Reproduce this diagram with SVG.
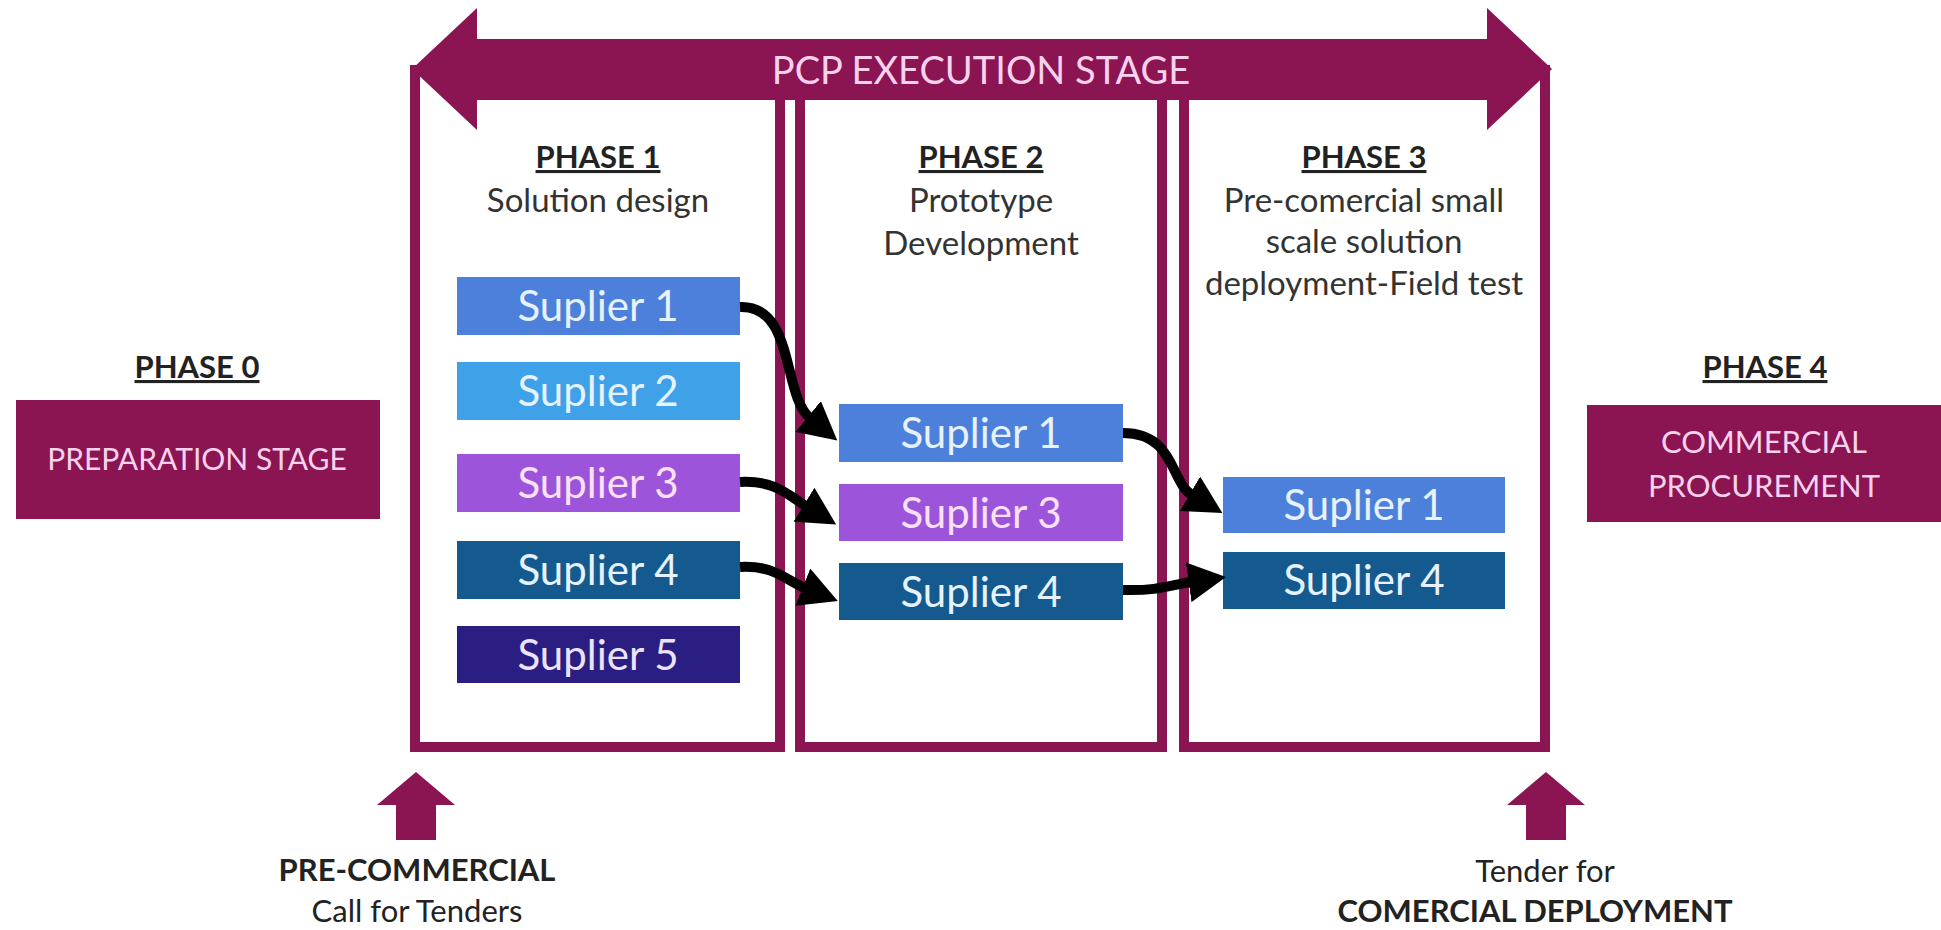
<svg xmlns="http://www.w3.org/2000/svg" width="1941" height="930" viewBox="0 0 1941 930">
<defs>
<style>
.mar{fill:#8B1452}
.frame{fill:none;stroke:#8B1452;stroke-width:10}
.hd{font-family:Lato,"Liberation Sans",sans-serif;font-weight:bold;font-size:31px;fill:#222;text-anchor:middle;text-decoration:underline}
.sub{font-family:Lato,"Liberation Sans",sans-serif;font-size:33px;fill:#333;text-anchor:middle}
.lt{font-family:Lato,"Liberation Sans",sans-serif;font-size:30px;fill:#f8d2ec;text-anchor:middle}
.sp{font-family:Lato,"Liberation Sans",sans-serif;font-size:42px;text-anchor:middle;fill:#e6f2ff}
.bt{font-family:Lato,"Liberation Sans",sans-serif;font-size:31px;fill:#222;text-anchor:middle}
.s1{fill:#4D80DA}.s2{fill:#3FA1E8}.s3{fill:#9C55DA}.s4{fill:#145A8E}.s5{fill:#2B1E83}
.con{fill:none;stroke:#000;stroke-width:10;marker-end:url(#ah)}
</style>
<marker id="ah" markerUnits="userSpaceOnUse" markerWidth="40" markerHeight="40" refX="2" refY="17" orient="auto" viewBox="0 0 34 34">
<path d="M0,0 L32,17 L0,34 Z" fill="#000"/>
</marker>
</defs>
<rect width="1941" height="930" fill="#fff"/>

<g id="phase-frames">
<rect class="frame" x="415" y="70" width="365" height="677"/>
<rect class="frame" x="800" y="70" width="362" height="677"/>
<rect class="frame" x="1184" y="70" width="361" height="677"/>
</g>

<g id="pcp-execution-stage">
<polygon class="mar" points="412,69 477,8 477,39 1487,39 1487,8 1552,69 1487,130 1487,100 477,100 477,130"/>
<text x="981" y="84" class="lt" style="font-size:38px">PCP EXECUTION STAGE</text>
</g>

<g id="phase0">
<text x="197" y="378" class="hd">PHASE 0</text>
<rect class="mar" x="16" y="400" width="364" height="119"/>
<text x="197" y="470" class="lt">PREPARATION STAGE</text>
</g>

<g id="phase4">
<text x="1765" y="378" class="hd">PHASE 4</text>
<rect class="mar" x="1587" y="405" width="354" height="117"/>
<text x="1764" y="453" class="lt" style="font-size:31px">COMMERCIAL</text>
<text x="1764" y="497" class="lt" style="font-size:31px">PROCUREMENT</text>
</g>

<g id="phase1">
<text x="598" y="168" class="hd">PHASE 1</text>
<text x="598" y="212" class="sub">Solution design</text>
</g>
<g id="phase2">
<text x="981" y="168" class="hd">PHASE 2</text>
<text x="981" y="212" class="sub">Prototype</text>
<text x="981" y="255" class="sub">Development</text>
</g>
<g id="phase3">
<text x="1364" y="168" class="hd">PHASE 3</text>
<text x="1364" y="212" class="sub">Pre-comercial small</text>
<text x="1364" y="253" class="sub">scale solution</text>
<text x="1364" y="295" class="sub">deployment-Field test</text>
</g>

<g id="p1-s1"><rect class="s1" x="457" y="277" width="283" height="58"/><text x="598" y="321" class="sp">Suplier 1</text></g>
<g id="p1-s2"><rect class="s2" x="457" y="362" width="283" height="58"/><text x="598" y="406" class="sp">Suplier 2</text></g>
<g id="p1-s3"><rect class="s3" x="457" y="454" width="283" height="58"/><text x="598" y="498" class="sp" style="fill:#fbe0f8">Suplier 3</text></g>
<g id="p1-s4"><rect class="s4" x="457" y="541" width="283" height="58"/><text x="598" y="585" class="sp">Suplier 4</text></g>
<g id="p1-s5"><rect class="s5" x="457" y="626" width="283" height="57"/><text x="598" y="670" class="sp" style="fill:#ece4ff">Suplier 5</text></g>

<g id="p2-s1"><rect class="s1" x="839" y="404" width="284" height="58"/><text x="981" y="448" class="sp">Suplier 1</text></g>
<g id="p2-s3"><rect class="s3" x="839" y="484" width="284" height="57"/><text x="981" y="528" class="sp" style="fill:#fbe0f8">Suplier 3</text></g>
<g id="p2-s4"><rect class="s4" x="839" y="563" width="284" height="57"/><text x="981" y="607" class="sp">Suplier 4</text></g>

<g id="p3-s1"><rect class="s1" x="1223" y="477" width="282" height="56"/><text x="1364" y="520" class="sp">Suplier 1</text></g>
<g id="p3-s4"><rect class="s4" x="1223" y="552" width="282" height="57"/><text x="1364" y="595" class="sp">Suplier 4</text></g>

<g id="connectors">
<path class="con" d="M740 307 C795 305 782 395 810 418"/>
<path class="con" d="M740 482 C775 480 788 495 806 506"/>
<path class="con" d="M740 567 C775 565 785 580 805 588"/>
<path class="con" d="M1123 433 C1175 433 1170 482 1192 495"/>
<path class="con" d="M1123 590 C1160 591 1170 585 1191 582"/>
</g>

<g id="call-pre-commercial">
<polygon class="mar" points="416,772 455,805 436,805 436,840 396,840 396,805 377,805"/>
<text x="417" y="881" class="bt" style="font-weight:bold">PRE-COMMERCIAL</text>
<text x="417" y="922" class="bt">Call for Tenders</text>
</g>

<g id="tender-commercial">
<polygon class="mar" points="1546,772 1585,805 1566,805 1566,840 1526,840 1526,805 1507,805"/>
<text x="1545" y="882" class="bt">Tender for</text>
<text x="1535" y="922" class="bt" style="font-weight:bold">COMERCIAL DEPLOYMENT</text>
</g>
</svg>
